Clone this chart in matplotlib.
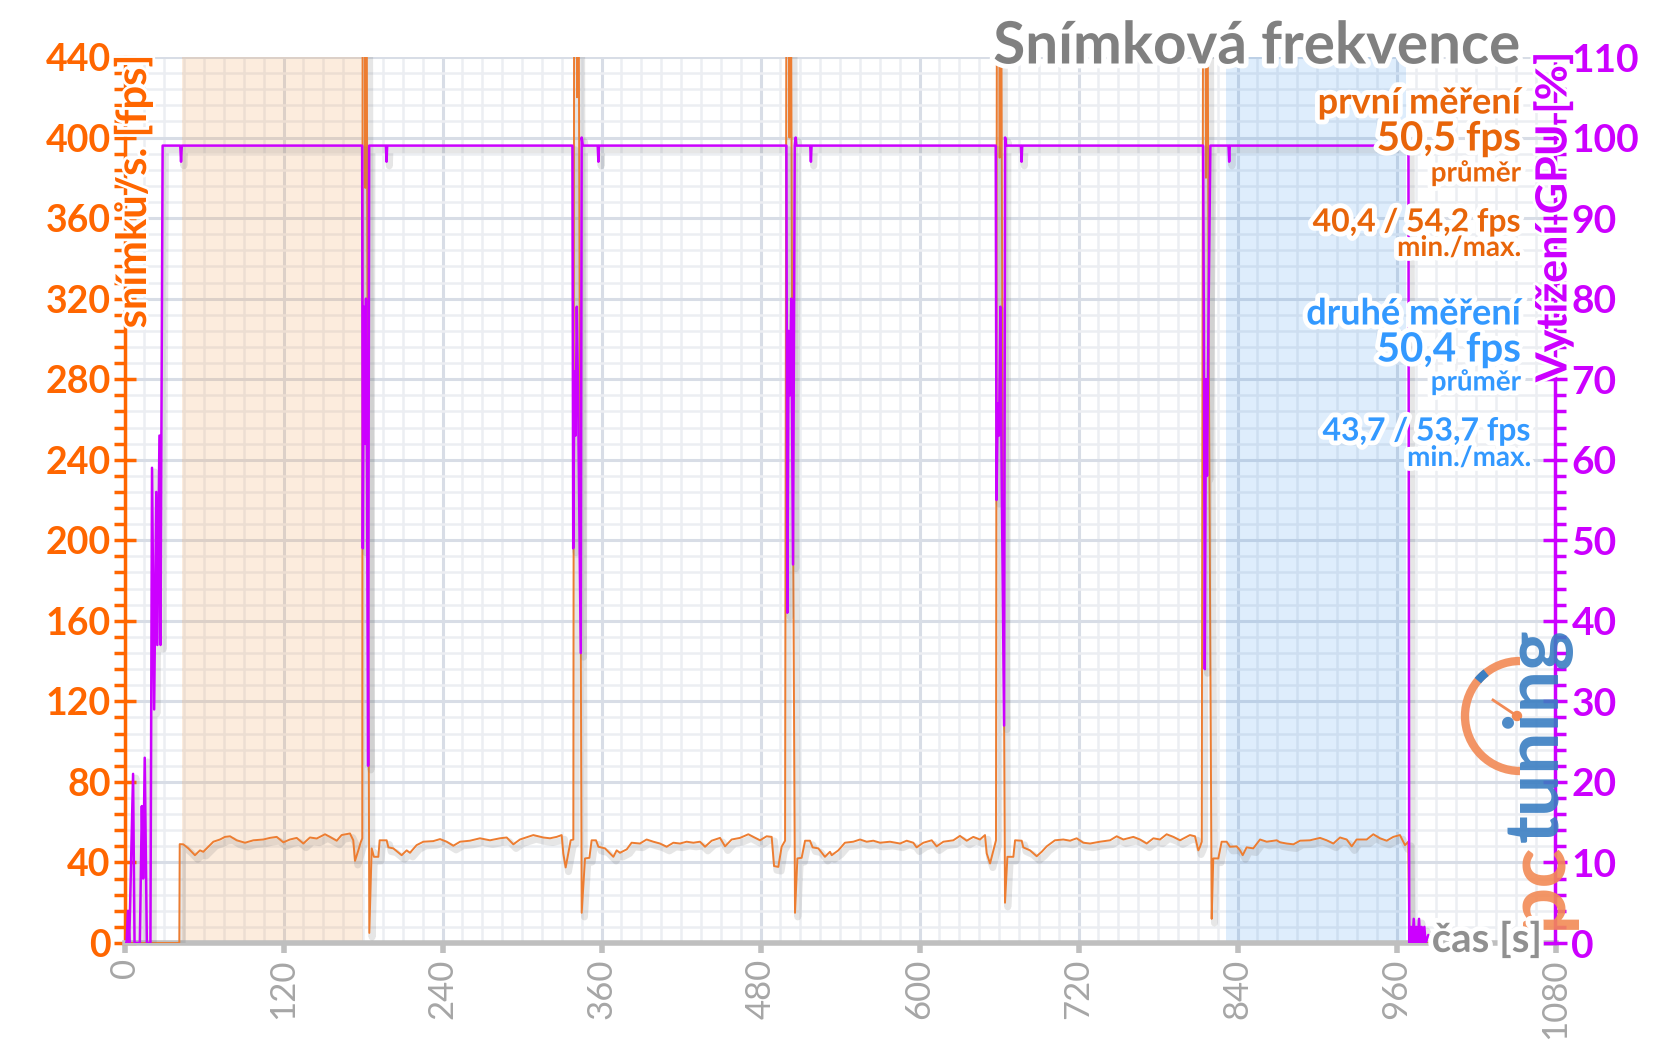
import matplotlib
matplotlib.use('Agg')
import matplotlib.pyplot as plt
import matplotlib.patheffects as pe
from matplotlib.ticker import MultipleLocator
from matplotlib.patches import Arc, Circle

plt.rcParams['font.family'] = ['Lato', 'DejaVu Sans']

# --- data ---
fps_t = [0, 41.3, 41.6, 44.3, 48.1, 53.1, 56.9, 59.4, 63.2, 67.0, 72.0, 75.8, 79.6, 84.6, 90.9, 97.2,
         104.7, 109.7, 114.8, 119.8, 124.8, 129.9, 134.9, 139.9, 145.0, 151.3, 155.0, 160.1, 163.8,
         170.1, 172.6, 173.9, 176.4, 178.2, 179.4, 179.7, 181.0, 181.7, 182.4, 183.3, 184.7, 186.5,
         188.2, 191.5, 192.5, 197.8, 199.1, 202.8, 209.1, 212.9, 215.4, 220.4, 225.5, 233.0, 238.1,
         243.1, 248.1, 253.2, 260.7, 268.2, 275.8, 283.3, 288.4, 293.4, 298.4, 308.5, 316.0, 321.1,
         326.1, 329.9, 331.1, 332.9, 334.9, 336.7, 338.7, 339.4, 340.8, 341.5, 342.3, 343.4, 345.0,
         347.5, 350.8, 352.5, 355.8, 357.6, 362.6, 368.9, 371.4, 373.9, 379.0, 382.7, 389.0, 394.0,
         399.1, 404.1, 409.1, 414.2, 419.2, 424.2, 429.3, 434.3, 438.1, 443.1, 449.4, 453.2, 458.2,
         464.5, 470.8, 474.5, 479.6, 484.6, 488.4, 490.2, 493.4, 495.9, 498.5, 499.7, 501.0, 501.8,
         502.6, 503.8, 506.0, 507.8, 511.0, 513.6, 517.3, 519.3, 523.6, 528.6, 532.4, 533.7, 538.7,
         543.7, 550.0, 555.1, 560.1, 565.1, 570.2, 577.7, 585.3, 590.3, 595.3, 597.8, 602.9, 609.2,
         612.9, 618.0, 625.5, 630.5, 635.6, 640.6, 645.6, 649.4, 650.7, 653.2, 655.7, 657.7, 658.5,
         659.8, 660.5, 661.3, 662.5, 664.5, 666.3, 670.8, 672.1, 677.1, 678.3, 683.4, 688.4, 692.2,
         696.0, 702.2, 708.5, 713.6, 718.6, 723.6, 728.7, 736.2, 743.8, 748.8, 753.8, 761.4, 766.4,
         771.4, 776.5, 781.5, 786.5, 791.6, 796.6, 804.1, 807.9, 810.4, 811.7, 813.0, 814.2, 815.5,
         816.2, 817.0, 818.2, 820.5, 821.7, 825.5, 828.0, 831.8, 834.3, 839.4, 841.9, 843.9, 846.9,
         851.9, 857.0, 862.0, 869.6, 872.1, 877.1, 882.2, 887.2, 894.7, 902.3, 907.3, 912.3, 917.4,
         922.4, 926.2, 929.9, 937.5, 942.5, 947.5, 952.6, 957.6, 962.6, 966.4, 968.9, 969.7, 987]
fps_v = [0, 0, 49.1, 49, 47, 43.6, 46, 45.3, 47.8, 50.3, 51.4, 52.7, 53, 51, 49.8, 51,
         51.4, 52.2, 52.7, 50, 51.4, 52.2, 49.4, 52.4, 51.9, 54, 52.7, 50.8, 53.6,
         54.4, 51, 40.8, 46, 50, 52, 560, 560, 375, 560, 316, 5, 47,
         42.8, 42.8, 51, 51, 47.5, 47, 43.6, 46, 44.8, 48.6, 50.3, 50.6, 51.6,
         50.3, 48.3, 50.3, 50.8, 52, 51, 52, 52.4, 49, 51.4, 53.6, 52.4, 52,
         52.7, 53.6, 44.5, 37.5, 44.5, 51, 51.4, 560, 560, 420, 560, 330, 15,
         42, 42.3, 51, 51, 47.8, 47, 42.8, 46, 44.8, 46.5, 49.8, 49.4, 51.4,
         50.3, 49.4, 47.8, 49.8, 49.4, 50.3, 49.8, 50.3, 47.8, 50.8, 52.2, 48, 51.4,
         52.2, 54, 52.7, 51, 53, 52.7, 38.2, 37.8, 47.8, 50.8, 560, 560, 400,
         560, 310, 15, 42, 42.3, 50.8, 50.8, 47.5, 47, 42.8, 45.3, 43.6, 46,
         49.8, 50.3, 51.4, 50.3, 50.8, 49.8, 50.3, 49.4, 50.8, 49.8, 47.5, 49.8, 51,
         48, 50.3, 51, 53.2, 50.8, 52.7, 51.4, 53.6, 44.5, 39.5, 46, 51, 560,
         560, 390, 560, 300, 20, 42.8, 42.8, 51, 50.8, 47.5, 46, 43.1, 45.3,
         48, 51, 51.4, 50.8, 52, 49.8, 49.4, 50.3, 51, 53, 51.4, 52.7, 51.4,
         49.4, 52, 51.4, 54, 52.7, 51, 53.6, 53, 46, 47.8, 50.3, 560, 560,
         380, 560, 310, 12, 42, 42, 50.3, 50.3, 47.8, 48, 46, 43.6, 47.5,
         47, 51.4, 50.3, 51, 50, 49.4, 49, 50.8, 51, 52.2, 51, 49.4, 52.4,
         51.4, 48, 51.4, 51.4, 54, 52, 50.8, 52.7, 53.6, 48.6, 50.3, 0, 0]

gpu_t = [0, 1.5, 2.5, 3.5, 6.4, 7.5, 11.5, 13.0, 14.0, 15.2, 16.8, 19.5, 20.7, 22.3, 23.9, 24.7,
         26.3, 27.1, 28.7, 42.0, 42.6, 43.2, 179.3, 179.8, 180.6, 181.4, 182.2, 183.0, 183.8, 184.6,
         197.2, 197.7, 198.2, 338.0, 338.6, 339.5, 340.4, 341.3, 342.2, 344.3, 345.0, 345.8,
         357.1, 357.6, 358.1, 499.5, 500.2, 501.2, 502.2, 503.2, 504.5, 505.8, 506.5, 507.0,
         517.5, 518.0, 518.5, 657.5, 658.1, 659.0, 660.0, 661.0, 662.0, 663.8, 664.6, 665.3,
         676.5, 677.0, 677.5, 814.0, 814.6, 815.3, 816.2, 817.0, 818.0, 819.5,
         833.2, 833.7, 834.2, 969.0, 969.6, 971, 972, 973, 974, 975, 976, 977, 978, 979, 980,
         981, 982, 984, 987]
gpu_v = [0, 0, 4, 0, 21, 0, 0, 17, 8, 23, 0, 0, 59, 29, 56, 37,
         63, 37, 99, 99, 97, 99, 99, 49, 79, 62, 80, 57, 22, 99,
         99, 97, 99, 99, 49, 71, 63, 79, 69, 36, 100, 99,
         99, 97, 99, 99, 41, 76, 68, 80, 47, 99, 100, 99,
         99, 97, 99, 99, 55, 67, 63, 79, 58, 27, 100, 99,
         99, 97, 99, 99, 77, 34, 70, 58, 76, 99,
         99, 97, 99, 99, 0, 2, 0, 3, 0, 2, 0, 3, 0, 2, 0,
         2, 0, 1, 0]

first_run = (43, 180)
second_run = (831, 967)

title = 'Snímková frekvence'
run1_lines = ['první měření', '50,5 fps', 'průměr', '40,4 / 54,2 fps', 'min./max.']
run2_lines = ['druhé měření', '50,4 fps', 'průměr', '43,7 / 53,7 fps', 'min./max.']

ORANGE = '#FF6600'
LINE_ORANGE = '#ED7D31'
TEXT_ORANGE = '#E8650A'
MAGENTA = '#CC00FF'
BLUE = '#3399FF'
GRAY = '#808080'

W, H = 1656, 1044
fig = plt.figure(figsize=(W / 100, H / 100), dpi=100)
fig.patch.set_facecolor('white')


def fx(px):
    return px / W


def fy(py):
    return 1 - py / H


ax = fig.add_axes([fx(124.6), fy(943), fx(1555.5) - fx(124.6), fy(57) - fy(943)])
ax.set_xlim(0, 1080)
ax.set_ylim(0, 440)
ax.xaxis.set_major_locator(MultipleLocator(120))
ax.xaxis.set_minor_locator(MultipleLocator(15))
ax.yaxis.set_major_locator(MultipleLocator(40))
ax.yaxis.set_minor_locator(MultipleLocator(8))
ax.set_axisbelow(True)
ax.grid(which='major', color='#D8DDE6', lw=2.2)
ax.grid(which='minor', color='#ECEEF2', lw=1.8)

ax.axvspan(*first_run, color='#F28E30', alpha=0.16, lw=0, zorder=1)
ax.axvspan(*second_run, color='#2387EB', alpha=0.15, lw=0, zorder=1)

shadow = [pe.SimpleLineShadow(offset=(2, -3), shadow_color='#777777', alpha=0.18, linewidth=5), pe.Normal()]
ax.plot(fps_t, fps_v, color=LINE_ORANGE, lw=1.4, zorder=3, path_effects=shadow)

for s in ['top', 'right']:
    ax.spines[s].set_visible(False)
ax.spines['left'].set_color(ORANGE)
ax.spines['left'].set_linewidth(2.5)
ax.spines['bottom'].set_color('#BFBFBF')
ax.spines['bottom'].set_linewidth(4)

ax.tick_params(axis='y', which='major', direction='inout', length=16, width=2.5, color=ORANGE,
               labelcolor=ORANGE, labelsize=27, pad=2)
ax.tick_params(axis='y', which='minor', direction='out', length=8, width=2.5, color=ORANGE)
ax.tick_params(axis='x', which='major', direction='out', length=7, width=4, color='#BFBFBF',
               labelcolor='#A6A6A6', labelsize=25, labelrotation=90, pad=4)
ax.tick_params(axis='x', which='minor', length=0)
for lbl in ax.get_yticklabels():
    lbl.set_fontweight('bold')

ax2 = ax.twinx()
ax2.set_ylim(0, 110)
ax2.yaxis.set_major_locator(MultipleLocator(10))
ax2.yaxis.set_minor_locator(MultipleLocator(2))
for s in ['top', 'left', 'bottom']:
    ax2.spines[s].set_visible(False)
ax2.spines['right'].set_color(MAGENTA)
ax2.spines['right'].set_linewidth(2.5)
ax2.tick_params(axis='y', which='major', direction='inout', length=17, width=2.5, color=MAGENTA,
                labelcolor=MAGENTA, labelsize=28, pad=3)
ax2.tick_params(axis='y', which='minor', direction='out', length=8, width=2.5, color=MAGENTA)
for lbl in ax2.get_yticklabels():
    lbl.set_fontweight('bold')
ax2.plot(gpu_t, gpu_v, color=MAGENTA, lw=1.8, zorder=3, path_effects=shadow)

glow = [pe.withStroke(linewidth=7, foreground='white')]
thin_glow = [pe.withStroke(linewidth=4, foreground='white')]

# logo (watermark)
logo = fig.add_axes([fx(1455), fy(780), fx(1585) - fx(1455), fy(650) - fy(780)])
logo.set_xlim(0, 130)
logo.set_ylim(0, 130)
logo.set_aspect('equal')
logo.axis('off')
logo.patch.set_alpha(0)
logo.add_patch(Arc((65, 64), 110, 110, theta1=90, theta2=270, color='#F28A55', lw=6, alpha=0.9))
logo.add_patch(Arc((65, 64), 110, 110, theta1=128, theta2=140, color='#3A7EC2', lw=6))
logo.plot([62, 38], [64, 80], color='#F28A55', lw=2)
logo.add_patch(Circle((62, 64), 4.5, color='#F28A55'))
fig.text(fx(1537), fy(929), 'pc', color='#F28A55', fontsize=60, fontweight='bold', rotation=90,
         rotation_mode='anchor', ha='left', va='center', alpha=0.9)
fig.text(fx(1537), fy(628), 'tuning', color='#3A7EC2', fontsize=54, fontweight='bold', rotation=90,
         rotation_mode='anchor', ha='right', va='center', alpha=0.9)

# axis titles
fig.text(fx(133), fy(55), 'snímků/s. [fps]', color=ORANGE, fontsize=30, fontweight='bold', rotation=90,
         rotation_mode='anchor', ha='right', va='center', path_effects=thin_glow)
fig.text(fx(1553), fy(52), 'Vytížení GPU [%]', color=MAGENTA, fontsize=31, fontweight='bold', rotation=90,
         rotation_mode='anchor', ha='right', va='center', path_effects=thin_glow)
fig.text(fx(1542), fy(940), 'čas [s]', color='#909090', fontsize=29, fontweight='bold',
         ha='right', va='center', path_effects=glow)

fig.text(fx(1521), fy(47), title, color=GRAY, fontsize=42, fontweight='bold',
         ha='right', va='center', path_effects=glow)

sizes = [26, 29, 20, 23, 20]
ys1 = [103, 139, 173, 222, 248]
ys2 = [314, 350, 382, 431, 458]
xs2 = [1521, 1521, 1521, 1531, 1531]
for txt, sz, yy in zip(run1_lines, sizes, ys1):
    fig.text(fx(1521), fy(yy), txt, color=TEXT_ORANGE, fontsize=sz, fontweight='bold',
             ha='right', va='center', path_effects=glow)
for txt, sz, yy, xx in zip(run2_lines, sizes, ys2, xs2):
    fig.text(fx(xx), fy(yy), txt, color=BLUE, fontsize=sz, fontweight='bold',
             ha='right', va='center', path_effects=glow)

fig.savefig('out.png', dpi=100, facecolor='white')
